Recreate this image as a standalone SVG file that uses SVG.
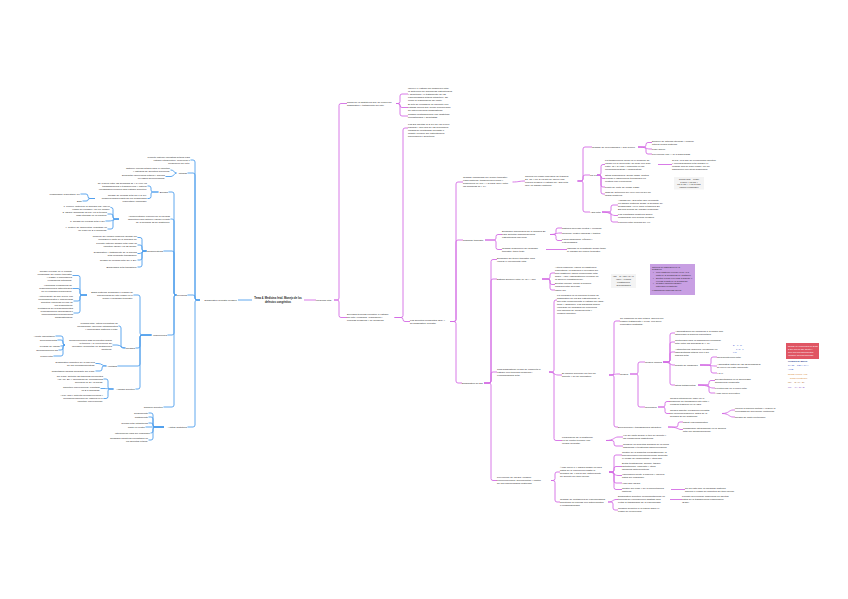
<svg xmlns="http://www.w3.org/2000/svg" width="848" height="599" viewBox="0 0 848 599">
<style>
.t{font-family:"Liberation Sans",Arial,sans-serif;font-size:2.5px;fill:#1c1c1c}
.e{text-anchor:end}
.m{text-anchor:middle}
.s{font-size:2.2px}
.c{font-family:"Liberation Sans",Arial,sans-serif;font-size:2.7px;font-weight:bold;fill:#1a1a1a;text-anchor:middle}
.b{fill:none;stroke:#4f9eec;stroke-width:0.9}
.p{fill:none;stroke:#d46ce4;stroke-width:0.9}
</style>
<rect width="848" height="599" fill="#ffffff"/>
<g id="connectors">
<g class="b">
<path d="M252 300 H238"/>
<path d="M200 300 H197 Q195 300 195 298 V162 Q195 160 193 160 H190.5"/>
<path d="M200 300 H197 Q195 300 195 298 V175 Q195 173 193 173 H187.5"/>
<path d="M200 300 H197 Q195 300 195 298 V297 Q195 295 193 295 H187.5"/>
<path d="M200 300 H197 Q195 300 195 302 V425 Q195 427 193 427 H187.5"/>
<path d="M176.5 173 C174 173 174 170 171 170 H170.5"/>
<path d="M176.5 173 C174 173 174 176.5 171 176.5 H165.5"/>
<path d="M176.5 295 H176 Q174 295 174 293 V194 Q174 192 172 192 H168.5"/>
<path d="M176.5 295 H176 Q174 295 174 293 V221 Q174 219 172 219 H170.5"/>
<path d="M176.5 295 H176 Q174 295 174 293 V253 Q174 251 172 251 H163.5"/>
<path d="M176.5 295 H176 Q174 295 174 297 V333 Q174 335 172 335 H167.5"/>
<path d="M176.5 295 H176 Q174 295 174 297 V405 Q174 407 172 407 H163.5"/>
<path d="M158.5 192 H153 Q151 192 151 190 V188 Q151 186 149 186 H147.5"/>
<path d="M158.5 192 H153 Q151 192 151 194 V196.5 Q151 198.5 149 198.5 H147.5"/>
<path d="M95 198.5 H90 Q88 198.5 88 196.5 Q88 194 86 194 H80.5"/>
<path d="M95 198.5 H90 Q88 198.5 88 200 Q88 201 86 201 H82.5"/>
<path d="M119 219 H115 Q113 219 113 217 V209.5 Q113 207.5 111 207.5 H110.5"/>
<path d="M119 219 H115 Q113 219 113 217 V216 Q113 214 111 214 H107.5"/>
<path d="M119 219 C113 219 113 221 109 221 H105.5"/>
<path d="M119 219 H115 Q113 219 113 221 V227 Q113 229 111 229 H107.5"/>
<path d="M146.5 251 H144 Q142 251 142 249 V239.5 Q142 237.5 140 237.5 H137.5"/>
<path d="M146.5 251 H144 Q142 251 142 249 V247 Q142 245 140 245 H137.5"/>
<path d="M146.5 251 C142 251 142 253.5 139 253.5 H137.5"/>
<path d="M146.5 251 H144 Q142 251 142 253 V258 Q142 260 140 260 H137.5"/>
<path d="M146.5 251 H144 Q142 251 142 253 V265 Q142 267 140 267 H137.5"/>
<path d="M151.5 335 H142 Q140 335 140 333 V297 Q140 295 138 295 H133.5"/>
<path d="M151.5 335 H142 Q140 335 140 337 V346 Q140 348 138 348 H135.5"/>
<path d="M151.5 335 H142 Q140 335 140 337 V364 Q140 366 138 366 H117.5"/>
<path d="M151.5 335 H142 Q140 335 140 337 V387 Q140 389 138 389 H135.5"/>
<path d="M87 295 H82 Q80 295 80 293 V277.5 Q80 275.5 78 275.5 H72.5"/>
<path d="M87 295 H82 Q80 295 80 293 V290.5 Q80 288.5 78 288.5 H72.5"/>
<path d="M87 295 H82 Q80 295 80 297 V299 Q80 301 78 301 H73.5"/>
<path d="M87 295 H82 Q80 295 80 297 V311 Q80 313 78 313 H73.5"/>
<path d="M125.5 348 H123 Q121 348 121 346 V328 Q121 326 119 326 H118.5"/>
<path d="M125.5 348 C121 348 121 345 117 345 H112.5"/>
<path d="M65 345 Q63 345 63 343 V338 Q63 336 61 336 H55.5"/>
<path d="M65 345 Q63 345 63 343 V342 Q63 340 61 340 H57.5"/>
<path d="M65 345 C63 345 63 346 61 346 H60.5"/>
<path d="M65 345 Q63 345 63 347 V348 Q63 350 61 350 H58.5"/>
<path d="M65 345 Q63 345 63 347 V354 Q63 356 61 356 H53.5"/>
<path d="M106.5 366 C102 366 102 363.5 98 363.5 H95.5"/>
<path d="M106.5 366 H104 Q102 366 102 368 V369 Q102 371 100 371 H95.5"/>
<path d="M113.5 389 H110 Q108 389 108 387 V381 Q108 379 106 379 H103.5"/>
<path d="M113.5 389 C108 389 108 388.5 104 388.5 H100.5"/>
<path d="M113.5 389 H110 Q108 389 108 391 V396.5 Q108 398.5 106 398.5 H103.5"/>
<path d="M164 427 H155 Q153 427 153 425 V415 Q153 413 151 413 H148.5"/>
<path d="M164 427 H155 Q153 427 153 425 V419 Q153 417 151 417 H148.5"/>
<path d="M164 427 H155 Q153 427 153 425 Q153 423 151 423 H148.5"/>
<path d="M164 427 H145.5"/>
<path d="M164 427 H155 Q153 427 153 429 V431 Q153 433 151 433 H150.5"/>
<path d="M164 427 H155 Q153 427 153 429 V438 Q153 440 151 440 H148.5"/>
</g>
<g class="p">
<path d="M304 300 H316"/>
<path d="M334 300 H337 Q339 300 339 298 V105.5 Q339 103.5 341 103.5 H347"/>
<path d="M334 300 H337 Q339 300 339 302 V315.5 Q339 317.5 341 317.5 H347"/>
<path d="M396 103.5 H398 Q400 103.5 400 101.5 V96 Q400 94 402 94 H408"/>
<path d="M396 103.5 H398 Q400 103.5 400 105.5 Q400 107.5 402 107.5 H408"/>
<path d="M396 103.5 H398 Q400 103.5 400 105.5 V114 Q400 116 402 116 H408"/>
<path d="M394.5 317.5 H401 Q403 317.5 403 315.5 V130 Q403 128 405 128 H408"/>
<path d="M394.5 317.5 H401 Q403 317.5 403 319.5 Q403 321.5 405 321.5 H410"/>
<path d="M450 321.5 H454 Q456 321.5 456 319.5 V184 Q456 182 458 182 H463"/>
<path d="M450 321.5 H454 Q456 321.5 456 319.5 V242 Q456 240 458 240 H463"/>
<path d="M450 321.5 H454 Q456 321.5 456 323.5 V381 Q456 383 458 383 H462"/>
<path d="M512.5 182 C519 182 519 181 525 181"/>
<path d="M577.5 181 H581 Q583 181 583 179 V149 Q583 147 585 147 H592"/>
<path d="M577.5 181 H581 Q583 181 583 179 V177 Q583 175 585 175 H590"/>
<path d="M577.5 181 H581 Q583 181 583 183 V210 Q583 212 585 212 H590"/>
<path d="M597 175 H599 Q601 175 601 173 V166.5 Q601 164.5 603 164.5 H605"/>
<path d="M597 175 H599 Q601 175 601 176.5 Q601 178.5 603 178.5 H605"/>
<path d="M597 175 H599 Q601 175 601 177 V185 Q601 187 603 187 H605"/>
<path d="M597 175 H599 Q601 175 601 177 V192 Q601 194 603 194 H605"/>
<path d="M658 164.5 H672"/>
<path d="M638 147 H644 Q646 147 646 145 V144.5 Q646 142.5 648 142.5 H652"/>
<path d="M638 147 C646 147 646 149 650 149 H652"/>
<path d="M638 147 H644 Q646 147 646 149 V152 Q646 154 648 154 H652"/>
<path d="M602 212 H609 Q611 212 611 210 V207 Q611 205 613 205 H618"/>
<path d="M602 212 C611 212 611 215.5 615 215.5 H618"/>
<path d="M602 212 H609 Q611 212 611 214 V220 Q611 222 613 222 H618"/>
<path d="M485 240 H494 Q496 240 496 238 V236.5 Q496 234.5 498 234.5 H502"/>
<path d="M485 240 H494 Q496 240 496 242 V247.5 Q496 249.5 498 249.5 H502"/>
<path d="M550 234.5 H554 Q556 234.5 556 232.5 V230 Q556 228 558 228 H562"/>
<path d="M550 234.5 C556 234.5 556 233 560 233 H562"/>
<path d="M550 234.5 H554 Q556 234.5 556 236.5 V238.5 Q556 240.5 558 240.5 H562"/>
<path d="M546 249.5 H567"/>
<path d="M484 383 H489 Q491 383 491 381 V261.5 Q491 259.5 493 259.5 H497"/>
<path d="M484 383 H489 Q491 383 491 381 V281 Q491 279 493 279 H497"/>
<path d="M484 383 H489 Q491 383 491 381 V374 Q491 372 493 372 H497"/>
<path d="M484 383 H489 Q491 383 491 385 V478.5 Q491 480.5 493 480.5 H497"/>
<path d="M542 279 H548 Q550 279 550 277 V275 Q550 273 552 273 H555"/>
<path d="M542 279 H548 Q550 279 550 281 V282.5 Q550 284.5 552 284.5 H555"/>
<path d="M542 279 H548 Q550 279 550 281 V288 Q550 290 552 290 H555"/>
<path d="M549 372 H552 Q554 372 554 370 V302 Q554 300 556 300 H557"/>
<path d="M549 372 C554 372 554 375 558 375 H562"/>
<path d="M549 372 H552 Q554 372 554 374 V438.5 Q554 440.5 556 440.5 H562"/>
<path d="M609 375 H612 Q614 375 614 373 V323 Q614 321 616 321 H620"/>
<path d="M609 375 C614 375 614 374 618 374 H620"/>
<path d="M609 375 H612 Q614 375 614 377 V425 Q614 427 616 427 H618"/>
<path d="M630 374 H636 Q638 374 638 372 V364 Q638 362 640 362 H645"/>
<path d="M630 374 H636 Q638 374 638 376 V405 Q638 407 640 407 H645"/>
<path d="M663 362 H668 Q670 362 670 360 V335 Q670 333 672 333 H675"/>
<path d="M663 362 H668 Q670 362 670 360 V344 Q670 342 672 342 H675"/>
<path d="M663 362 H668 Q670 362 670 360 V354 Q670 352 672 352 H675"/>
<path d="M663 362 C670 362 670 365 673 365 H675"/>
<path d="M663 362 H668 Q670 362 670 364 V383 Q670 385 672 385 H675"/>
<path d="M700 365 H709 Q711 365 711 363 V359 Q711 357 713 357 H717"/>
<path d="M700 365 C711 365 711 366 715 366 H717"/>
<path d="M700 365 H709 Q711 365 711 367 V371 Q711 373 713 373 H717"/>
<path d="M698 385 H707 Q709 385 709 383 V382.5 Q709 380.5 711 380.5 H715"/>
<path d="M698 385 C709 385 709 388 713 388 H715"/>
<path d="M698 385 H707 Q709 385 709 387 V391 Q709 393 711 393 H715"/>
<path d="M658 407 H663 Q665 407 665 405 V403.5 Q665 401.5 667 401.5 H670"/>
<path d="M658 407 H663 Q665 407 665 409 V411.5 Q665 413.5 667 413.5 H670"/>
<path d="M722 413.5 C729 413.5 729 410 733 410 H735"/>
<path d="M722 413.5 C729 413.5 729 417 733 417 H735"/>
<path d="M668 427 H676 Q678 427 678 425 V424 Q678 422 680 422 H683"/>
<path d="M668 427 C678 427 678 429.5 681 429.5 H683"/>
<path d="M606 440.5 C614 440.5 614 437 618 437 H623"/>
<path d="M606 440.5 H612 Q614 440.5 614 442.5 V444 Q614 446 616 446 H623"/>
<path d="M551 480.5 H553 Q555 480.5 555 478.5 V474 Q555 472 557 472 H560"/>
<path d="M551 480.5 H553 Q555 480.5 555 482.5 V500 Q555 502 557 502 H560"/>
<path d="M609 472 H612 Q614 472 614 470 V457 Q614 455 616 455 H622"/>
<path d="M609 472 H612 Q614 472 614 470 V468.5 Q614 466.5 616 466.5 H622"/>
<path d="M609 472 C614 472 614 475.5 618 475.5 H622"/>
<path d="M609 472 H612 Q614 472 614 474 V481 Q614 483 616 483 H622"/>
<path d="M609 472 H612 Q614 472 614 474 V487.5 Q614 489.5 616 489.5 H622"/>
<path d="M671 489.5 H685"/>
<path d="M608 502 C613 502 613 499.5 616 499.5 H618"/>
<path d="M608 502 H611 Q613 502 613 504 V508 Q613 510 615 510 H618"/>
<path d="M670 499.5 H682"/>
</g>
</g>

<g id="center"><text class="c" x="278" y="299.4"><tspan x="278">Tema 4. Medicina fetal. Manejo de los</tspan><tspan x="278" dy="3.3">defectos congénitos</tspan></text></g>

<!-- LEFT -->
<g id="lm"><text class="t e" x="237" y="300.9">Diagnóstico prenatal invasivo</text></g>
<g id="a1"><text class="t e" x="190" y="158.4"><tspan x="190">Permite obtener muestras fetales para</tspan><tspan x="190" dy="3">estudio citogenético, molecular o</tspan><tspan x="190" dy="3">bioquímico del feto.</tspan></text></g>
<g id="b"><text class="t e" x="187" y="173.9">Utilidad</text></g>
<g id="b1"><text class="t e" x="170" y="169.4"><tspan x="170">Obtener células fetales para el cariotipo</tspan><tspan x="170" dy="3">y estudios de genética molecular.</tspan></text></g>
<g id="b2"><text class="t e" x="165" y="175.9"><tspan x="165">Descartar infecciones fetales y anemia</tspan><tspan x="165" dy="3">en casos seleccionados.</tspan></text></g>
<g id="f"><text class="t e" x="187" y="295.9">Técnicas</text></g>
<g id="c"><text class="t e" x="168" y="192.9">Biopsia</text></g>
<g id="c1"><text class="t e" x="147" y="183.9"><tspan x="147">Se realiza entre las semanas 11 y 14 por vía</tspan><tspan x="147" dy="3">transabdominal o transcervical y obtiene</tspan><tspan x="147" dy="3">vellosidades coriales para estudio genético.</tspan></text></g>
<g id="c2"><text class="t e" x="147" y="196.4"><tspan x="147">Riesgo de pérdida fetal del 0,5-1%.</tspan><tspan x="147" dy="3">Posibles falsos positivos por mosaicismo</tspan><tspan x="147" dy="3">placentario confinado.</tspan></text></g>
<g id="c2a"><text class="t e" x="80" y="194.9">Mosaicismo placentario 1%</text></g>
<g id="c2b"><text class="t e" x="82" y="201.9">Bajo</text></g>
<g id="d"><text class="t e" x="170" y="216.9"><tspan x="170">Amniocentesis: punción de la cavidad</tspan><tspan x="170" dy="3">amniótica para obtener líquido a partir</tspan><tspan x="170" dy="3">de la semana 15 de gestación.</tspan></text></g>
<g id="d1"><text class="t e" x="110" y="206.9"><tspan x="110">1. Precoz (antes de la semana 15): mayor</tspan><tspan x="110" dy="3">riesgo de pérdida y de pie zambo.</tspan></text></g>
<g id="d2"><text class="t e" x="107" y="213.4"><tspan x="107">2. Tardía (semanas 15-18): es la técnica</tspan><tspan x="107" dy="3">más utilizada en la práctica.</tspan></text></g>
<g id="d3"><text class="t e" x="105" y="221.9">3. Riesgo de pérdida fetal 0,5%</text></g>
<g id="d4"><text class="t e" x="107" y="228.4"><tspan x="107">4. Cultivo de amniocitos: resultado en</tspan><tspan x="107" dy="3">un plazo de 2-3 semanas.</tspan></text></g>
<g id="e"><text class="t e" x="163" y="251.9">Cordocentesis</text></g>
<g id="e1"><text class="t e" x="137" y="236.9"><tspan x="137">Punción del cordón umbilical guiada por</tspan><tspan x="137" dy="3">ecografía a partir de la semana 18.</tspan></text></g>
<g id="e2"><text class="t e" x="137" y="244.4"><tspan x="137">Permite obtener sangre fetal para un</tspan><tspan x="137" dy="3">cariotipo rápido (48-72 horas).</tspan></text></g>
<g id="e3"><text class="t e" x="137" y="252.9"><tspan x="137">Diagnóstico y tratamiento de la anemia</tspan><tspan x="137" dy="3">fetal mediante transfusión.</tspan></text></g>
<g id="e4"><text class="t e" x="137" y="260.9">Riesgo de pérdida fetal del 1-2%.</text></g>
<g id="e5"><text class="t e" x="137" y="267.9">Bradicardia fetal transitoria.</text></g>
<g id="h"><text class="t e" x="167" y="335.9">Indicaciones</text></g>
<g id="g"><text class="t e" x="133" y="292.9"><tspan x="133">Edad materna avanzada o cribado de</tspan><tspan x="133" dy="3">aneuploidías de alto riesgo en el</tspan><tspan x="133" dy="3">primer o segundo trimestre.</tspan></text></g>
<g id="g1"><text class="t e" x="72" y="271.9"><tspan x="72">Riesgo elevado en el cribado</tspan><tspan x="72" dy="3">combinado del primer trimestre</tspan><tspan x="72" dy="3">(&gt;1/250) o marcadores</tspan><tspan x="72" dy="3">ecográficos alterados.</tspan></text></g>
<g id="g2"><text class="t e" x="72" y="286.4"><tspan x="72">Hallazgos ecográficos de</tspan><tspan x="72" dy="3">malformaciones estructurales</tspan><tspan x="72" dy="3">en la ecografía morfológica.</tspan></text></g>
<g id="g3"><text class="t e" x="73" y="297.4"><tspan x="73">Antecedente de hijo previo con</tspan><tspan x="73" dy="3">cromosomopatía o enfermedad</tspan><tspan x="73" dy="3">genética conocida en uno de</tspan><tspan x="73" dy="3">los progenitores.</tspan></text></g>
<g id="g4"><text class="t e" x="73" y="309.4"><tspan x="73">Portadores de reordenamientos</tspan><tspan x="73" dy="3">cromosómicos equilibrados o</tspan><tspan x="73" dy="3">enfermedades monogénicas</tspan><tspan x="73" dy="3">diagnosticables.</tspan></text></g>
<g id="i"><text class="t e" x="135" y="348.9">Riesgos</text></g>
<g id="i1"><text class="t e" x="118" y="323.9"><tspan x="118">Pérdida fetal, rotura prematura de</tspan><tspan x="118" dy="3">membranas, infección intraamniótica</tspan><tspan x="118" dy="3">y hemorragia materna o fetal.</tspan></text></g>
<g id="i2"><text class="t e" x="112" y="341.4"><tspan x="112">Complicaciones más frecuentes según</tspan><tspan x="112" dy="3">la técnica y la experiencia del</tspan><tspan x="112" dy="3">operador; aumentan en gestaciones</tspan><tspan x="112" dy="3">múltiples.</tspan></text></g>
<g id="i2a"><text class="t e" x="55" y="336.9">Aborto espontáneo</text></g>
<g id="i2b"><text class="t e" x="57" y="340.9">Corioamnionitis</text></g>
<g id="i2c"><text class="t e" x="60" y="346.9">Pérdida de líquido</text></g>
<g id="i2d"><text class="t e" x="58" y="350.9">Isoinmunización Rh</text></g>
<g id="i2e"><text class="t e" x="53" y="356.9">Lesión fetal</text></g>
<g id="j"><text class="t e" x="117" y="366.9">Ventajas</text></g>
<g id="j1"><text class="t e" x="95" y="362.9"><tspan x="95">Diagnóstico definitivo de la mayoría</tspan><tspan x="95" dy="3">de las cromosomopatías.</tspan></text></g>
<g id="j2"><text class="t e" x="95" y="371.9">Resultados rápidos mediante QF-PCR.</text></g>
<g id="k"><text class="t e" x="135" y="389.9">Análisis genético</text></g>
<g id="k1"><text class="t e" x="103" y="376.9"><tspan x="103">QF-PCR: detecta las trisomías frecuentes</tspan><tspan x="103" dy="3">(13, 18, 21) y anomalías de cromosomas</tspan><tspan x="103" dy="3">sexuales en 24-48 horas.</tspan></text></g>
<g id="k2"><text class="t e" x="100" y="387.9"><tspan x="100">Cariotipo convencional: resultado</tspan><tspan x="100" dy="3">en 2-3 semanas.</tspan></text></g>
<g id="k3"><text class="t e" x="103" y="396.4"><tspan x="103">Array-CGH: detecta microdeleciones y</tspan><tspan x="103" dy="3">microduplicaciones no visibles en el</tspan><tspan x="103" dy="3">cariotipo convencional.</tspan></text></g>
<g id="l"><text class="t e" x="163" y="407.9">Consejo genético</text></g>
<g id="mm"><text class="t e" x="187" y="427.9">Actitud obstétrica</text></g>
<g id="m1"><text class="t e" x="148" y="413.9">Seguimiento</text></g>
<g id="m2"><text class="t e" x="148" y="417.9">Tratamiento</text></g>
<g id="m3"><text class="t e" x="148" y="423.9">Cirugía fetal intrauterina</text></g>
<g id="m4"><text class="t e" x="145" y="427.9">Parto en centro</text></g>
<g id="m5"><text class="t e" x="150" y="433.9">Interrupción legal del embarazo</text></g>
<g id="m6"><text class="t e" x="148" y="439.4"><tspan x="148">Cuidados paliativos perinatales en</tspan><tspan x="148" dy="3">los defectos letales.</tspan></text></g>

<!-- RIGHT -->
<g id="rm"><text class="t" x="316" y="300.9">Medicina fetal</text></g>
<g id="o"><text class="t" x="347" y="102.9"><tspan x="347">Rama de la obstetricia que se ocupa del</tspan><tspan x="347" dy="3">diagnóstico y tratamiento del feto.</tspan></text></g>
<g id="o1"><text class="t" x="408" y="88.9"><tspan x="408">Incluye el estudio del desarrollo fetal,</tspan><tspan x="408" dy="3">la detección de anomalías estructurales</tspan><tspan x="408" dy="3">y genéticas y el tratamiento de las</tspan><tspan x="408" dy="3">enfermedades fetales intraútero, así</tspan><tspan x="408" dy="3">como la planificación del parto.</tspan></text></g>
<g id="o2"><text class="t" x="408" y="105.4"><tspan x="408">El feto se considera un paciente con</tspan><tspan x="408" dy="3">entidad propia que puede beneficiarse</tspan><tspan x="408" dy="3">de intervenciones diagnósticas.</tspan></text></g>
<g id="o3"><text class="t" x="408" y="115.4"><tspan x="408">Trabajo multidisciplinar con obstetras,</tspan><tspan x="408" dy="3">neonatólogos y genetistas.</tspan></text></g>
<g id="pp"><text class="t" x="408" y="124.9"><tspan x="408">Los DC afectan al 2-3% de los recién</tspan><tspan x="408" dy="3">nacidos y son una de las principales</tspan><tspan x="408" dy="3">causas de mortalidad perinatal e</tspan><tspan x="408" dy="3">infantil; pueden ser estructurales,</tspan><tspan x="408" dy="3">funcionales o genéticos.</tspan></text></g>
<g id="n"><text class="t" x="347" y="315.4"><tspan x="347">Diversas técnicas permiten el estudio</tspan><tspan x="347" dy="3">del feto: ecografía, resonancia y</tspan><tspan x="347" dy="3">pruebas invasivas y no invasivas.</tspan></text></g>
<g id="dd"><text class="t" x="410" y="320.9"><tspan x="410">Los defectos congénitos (DC) y</tspan><tspan x="410" dy="3">su diagnóstico prenatal</tspan></text></g>
<g id="q"><text class="t" x="463" y="178.4"><tspan x="463">Cribado combinado del primer trimestre:</tspan><tspan x="463" dy="3">edad materna, translucencia nucal y</tspan><tspan x="463" dy="3">bioquímica (PAPP-A y β-hCG libre) entre</tspan><tspan x="463" dy="3">las semanas 11 y 14.</tspan></text></g>
<g id="r"><text class="t" x="525" y="177.4"><tspan x="525">Calcula un riesgo individual de trisomía</tspan><tspan x="525" dy="3">21, 18 y 13; si es alto se ofrece una</tspan><tspan x="525" dy="3">prueba invasiva o estudio de ADN fetal</tspan><tspan x="525" dy="3">libre en sangre materna.</tspan></text></g>
<g id="r0"><text class="t" x="592" y="147.9">Cribado de preeclampsia y CIR precoz</text></g>
<g id="s1"><text class="t" x="652" y="141.9"><tspan x="652">Doppler de arterias uterinas y presión</tspan><tspan x="652" dy="3">arterial media materna.</tspan></text></g>
<g id="s2"><text class="t" x="652" y="149.9">PlGF sérico</text></g>
<g id="s3"><text class="t" x="652" y="154.9">Prevención con AAS a dosis bajas</text></g>
<g id="s"><text class="t" x="590" y="175.9">TN 1T</text></g>
<g id="s1b"><text class="t" x="605" y="160.9"><tspan x="605">La translucencia nucal es el acúmulo de</tspan><tspan x="605" dy="3">líquido en la nuca fetal; se mide con CRL</tspan><tspan x="605" dy="3">entre 45 y 84 mm y aumenta en las</tspan><tspan x="605" dy="3">cromosomopatías y cardiopatías.</tspan></text></g>
<g id="s1a"><text class="t" x="672" y="161.4"><tspan x="672">Si TN &gt;3,5 mm se recomienda cariotipo</tspan><tspan x="672" dy="3">y ecocardiografía fetal aunque el</tspan><tspan x="672" dy="3">cribado sea de bajo riesgo, por su</tspan><tspan x="672" dy="3">asociación con otros síndromes.</tspan></text></g>
<g id="s2b"><text class="t" x="605" y="176.4"><tspan x="605">Otros marcadores: hueso nasal, ductus</tspan><tspan x="605" dy="3">venoso e insuficiencia tricuspídea en</tspan><tspan x="605" dy="3">centros con experiencia.</tspan></text></g>
<g id="s3b"><text class="t" x="605" y="187.9">Punto de corte de riesgo 1/250</text></g>
<g id="s4b"><text class="t" x="605" y="193.4"><tspan x="605">Tasa de detección del 90% con un 5% de</tspan><tspan x="605" dy="3">falsos positivos.</tspan></text></g>
<g id="fb1"><rect x="674" y="177" width="30" height="12.5" fill="#f4f4f4"/><text class="t m s" x="689" y="179.6"><tspan x="689">Riesgo final = riesgo</tspan><tspan x="689" dy="2.9">a priori × LR TN ×</tspan><tspan x="689" dy="2.9">LR PAPP-A × LR β-hCG</tspan><tspan x="689" dy="2.9">(cálculo combinado)</tspan></text></g>
<g id="t"><text class="t" x="590" y="212.9">ADN fetal</text></g>
<g id="t1"><text class="t" x="618" y="201.4"><tspan x="618">Análisis del ADN fetal libre circulante</tspan><tspan x="618" dy="3">en sangre materna desde la semana 10;</tspan><tspan x="618" dy="3">sensibilidad &gt;99% para la trisomía 21.</tspan><tspan x="618" dy="3">Es una prueba de cribado avanzado.</tspan></text></g>
<g id="t2"><text class="t" x="618" y="214.9"><tspan x="618">Los resultados positivos deben</tspan><tspan x="618" dy="3">confirmarse con prueba invasiva.</tspan></text></g>
<g id="t3"><text class="t" x="618" y="222.9">Fracción fetal mínima del 4%</text></g>
<g id="u"><text class="t" x="463" y="240.9">Segundo trimestre</text></g>
<g id="u1"><text class="t" x="502" y="232.4"><tspan x="502">Ecografía morfológica de la semana 20</tspan><tspan x="502" dy="3">para detectar malformaciones</tspan><tspan x="502" dy="3">estructurales mayores.</tspan></text></g>
<g id="u1a"><text class="t" x="562" y="228.9">Sistema nervioso central y columna</text></g>
<g id="u1b"><text class="t" x="562" y="233.9">Corazón: cuatro cámaras y tractos</text></g>
<g id="u1c"><text class="t" x="562" y="239.9"><tspan x="562">Pared abdominal, riñones y</tspan><tspan x="562" dy="3">extremidades.</tspan></text></g>
<g id="u2"><text class="t" x="502" y="248.9"><tspan x="502">Cribado bioquímico del segundo</tspan><tspan x="502" dy="3">trimestre (triple test).</tspan></text></g>
<g id="u2a"><text class="t" x="567" y="248.9"><tspan x="567">Indicado si la gestante acude tarde</tspan><tspan x="567" dy="3">al cribado del primer trimestre.</tspan></text></g>
<g id="z"><text class="t" x="462" y="383.9">Diagnóstico de DC</text></g>
<g id="v1"><text class="t" x="497" y="258.9"><tspan x="497">Ecografía del tercer trimestre para</tspan><tspan x="497" dy="3">valorar el crecimiento fetal.</tspan></text></g>
<g id="v2"><text class="t" x="497" y="279.9">Estudio Doppler fetal: IP, IR y ACM</text></g>
<g id="v2a"><text class="t" x="555" y="267.9"><tspan x="555">Arteria umbilical: valora la resistencia</tspan><tspan x="555" dy="3">placentaria; la ausencia o inversión del</tspan><tspan x="555" dy="3">flujo diastólico indica compromiso fetal</tspan><tspan x="555" dy="3">grave. ACM: vasodilatación cerebral en</tspan><tspan x="555" dy="3">la hipoxia (redistribución).</tspan></text></g>
<g id="v2b"><text class="t" x="555" y="283.9"><tspan x="555">Ductus venoso: refleja la función</tspan><tspan x="555" dy="3">cardíaca fetal derecha.</tspan></text></g>
<g id="v2c"><text class="t" x="555" y="290.9">Índice CP</text></g>
<g id="fb2"><rect x="611" y="274" width="25" height="14" fill="#f4f4f4"/><text class="t m s" x="623.5" y="277.4"><tspan x="623.5">ICP = IP ACM / IP AU</tspan><tspan x="623.5" dy="2.9">Valor &lt; 1 indica</tspan><tspan x="623.5" dy="2.9">redistribución</tspan><tspan x="623.5" dy="2.9">hemodinámica</tspan></text></g>
<g id="pb"><rect x="650" y="264" width="45" height="31" fill="#c89fe3"/><text class="t s" x="652" y="267.6"><tspan x="652">Criterios de finalización de la</tspan><tspan x="652" dy="2.8">gestación:</tspan><tspan x="653" dy="2.8">•</tspan><tspan x="656">Flujo diastólico reverso en la AU a</tspan><tspan x="656" dy="2.8">partir de la semana 30 de gestación.</tspan><tspan x="653" dy="2.8">•</tspan><tspan x="656">Ductus venoso con onda a ausente o</tspan><tspan x="656" dy="2.8">reversa a partir de la semana 26.</tspan><tspan x="653" dy="2.8">•</tspan><tspan x="656">Registro cardiotocográfico</tspan><tspan x="656" dy="2.8">patológico persistente.</tspan><tspan x="652" dy="3.5">▪ Maduración pulmonar previa</tspan></text></g>
<g id="w"><text class="t" x="557" y="295.9"><tspan x="557">La ecografía es la principal técnica de</tspan><tspan x="557" dy="3">diagnóstico de los DC estructurales; la</tspan><tspan x="557" dy="3">RM fetal complementa el estudio del SNC,</tspan><tspan x="557" dy="3">tórax y abdomen. Los hallazgos deben</tspan><tspan x="557" dy="3">valorarse en unidades de referencia</tspan><tspan x="557" dy="3">con equipos de medicina fetal y</tspan><tspan x="557" dy="3">consejo genético.</tspan></text></g>
<g id="x"><text class="t" x="620" y="318.9"><tspan x="620">Se clasifican en DC letales, graves con</tspan><tspan x="620" dy="3">posible tratamiento y leves, con buen</tspan><tspan x="620" dy="3">pronóstico postnatal.</tspan></text></g>
<g id="aa"><text class="t" x="497" y="369.9"><tspan x="497">Tras diagnosticar un DC se completa el</tspan><tspan x="497" dy="3">estudio con técnicas invasivas y</tspan><tspan x="497" dy="3">ecocardiografía fetal.</tspan></text></g>
<g id="ab"><text class="t" x="562" y="374.4"><tspan x="562">El manejo depende del tipo de</tspan><tspan x="562" dy="3">defecto y de su pronóstico.</tspan></text></g>
<g id="ac"><text class="t" x="620" y="374.9">Terapia</text></g>
<g id="ad"><text class="t" x="645" y="362.9">Terapia médica</text></g>
<g id="ad0"><text class="t" x="675" y="332.4"><tspan x="675">Administración de fármacos a la madre que</tspan><tspan x="675" dy="3">atraviesan la barrera placentaria.</tspan></text></g>
<g id="ad1"><text class="t" x="675" y="341.4"><tspan x="675">Corticoides para la maduración pulmonar</tspan><tspan x="675" dy="3">fetal entre las semanas 24 y 34.</tspan></text></g>
<g id="ad2"><text class="t" x="675" y="349.9"><tspan x="675">Antiarrítmicos (digoxina, flecainida) en</tspan><tspan x="675" dy="3">taquiarritmias fetales con o sin</tspan><tspan x="675" dy="3">hidrops fetal.</tspan></text></g>
<g id="ad3"><text class="t" x="675" y="365.9">Sulfato de magnesio</text></g>
<g id="ad3a"><text class="t" x="717" y="357.9">Neuroprotección fetal</text></g>
<g id="ad3b"><text class="t" x="717" y="365.4"><tspan x="717">Administrar antes de las 32 semanas si</tspan><tspan x="717" dy="3">se prevé un parto inminente.</tspan></text></g>
<g id="ad3c"><text class="t" x="717" y="373.9">4 g iv</text></g>
<g id="ad4"><text class="t" x="675" y="385.9">Otros tratamientos</text></g>
<g id="ad4a"><text class="t" x="715" y="379.9"><tspan x="715">Dexametasona en la hiperplasia</tspan><tspan x="715" dy="3">suprarrenal congénita.</tspan></text></g>
<g id="ad4b"><text class="t" x="715" y="388.9">Levotiroxina en el bocio fetal</text></g>
<g id="ad4c"><text class="t" x="715" y="393.9">Ácido fólico preventivo</text></g>
<g id="ae"><text class="t" x="645" y="407.9">Quirúrgica</text></g>
<g id="ae1"><text class="t" x="670" y="399.4"><tspan x="670">Cirugía fetoscópica: láser en el</tspan><tspan x="670" dy="3">síndrome de transfusión feto-fetal y</tspan><tspan x="670" dy="3">oclusión traqueal en la HDC.</tspan></text></g>
<g id="ae2"><text class="t" x="670" y="411.4"><tspan x="670">Cirugía abierta: reparación prenatal</tspan><tspan x="670" dy="3">del mielomeningocele antes de la</tspan><tspan x="670" dy="3">semana 26 de gestación.</tspan></text></g>
<g id="ae2a"><text class="t" x="735" y="409.4"><tspan x="735">Mejora la función motora y reduce la</tspan><tspan x="735" dy="3">necesidad de derivación ventricular.</tspan></text></g>
<g id="ae2b"><text class="t" x="735" y="417.9">Riesgo de parto pretérmino</text></g>
<g id="af"><text class="t" x="618" y="427.9">Derivaciones y transfusiones intraútero</text></g>
<g id="af1"><text class="t" x="683" y="422.9">Shunt vesicoamniótico</text></g>
<g id="af2"><text class="t" x="683" y="428.9"><tspan x="683">Transfusión intravascular en la anemia</tspan><tspan x="683" dy="3">fetal por isoinmunización.</tspan></text></g>
<g id="ag"><text class="t" x="562" y="438.4"><tspan x="562">Finalización de la gestación</tspan><tspan x="562" dy="3">en un centro terciario con</tspan><tspan x="562" dy="3">cirugía neonatal.</tspan></text></g>
<g id="ag1"><text class="t" x="623" y="436.4"><tspan x="623">Vía del parto según el tipo de defecto y</tspan><tspan x="623" dy="3">las condiciones obstétricas.</tspan></text></g>
<g id="ag2"><text class="t" x="623" y="445.4"><tspan x="623">Cesárea en defectos grandes de la pared</tspan><tspan x="623" dy="3">abdominal o teratomas sacrococcígeos.</tspan></text></g>
<g id="ba"><text class="t" x="497" y="478.4"><tspan x="497">Prevención de los DC: consejo</tspan><tspan x="497" dy="3">preconcepcional, suplementos y control</tspan><tspan x="497" dy="3">de las enfermedades maternas.</tspan></text></g>
<g id="bb"><text class="t" x="560" y="468.4"><tspan x="560">Ácido fólico 0,4 mg/día desde un mes</tspan><tspan x="560" dy="3">antes de la concepción hasta la</tspan><tspan x="560" dy="3">semana 12; 4 mg si hay antecedente</tspan><tspan x="560" dy="3">de defecto del tubo neural.</tspan></text></g>
<g id="bb1"><text class="t" x="622" y="452.9"><tspan x="622">Control de la diabetes pregestacional: la</tspan><tspan x="622" dy="3">hiperglucemia periconcepcional aumenta</tspan><tspan x="622" dy="3">el riesgo de cardiopatías y otros DC.</tspan></text></g>
<g id="bb2"><text class="t" x="622" y="464.4"><tspan x="622">Evitar teratógenos: alcohol, tabaco,</tspan><tspan x="622" dy="3">isotretinoína, valproato y otros</tspan><tspan x="622" dy="3">fármacos antiepilépticos.</tspan></text></g>
<g id="bb3"><text class="t" x="622" y="474.9"><tspan x="622">Vacunación frente a rubéola y varicela</tspan><tspan x="622" dy="3">antes del embarazo.</tspan></text></g>
<g id="bb4"><text class="t" x="622" y="483.9">Yodo 200 μg/día</text></g>
<g id="bb5"><text class="t" x="622" y="488.9"><tspan x="622">Control del peso y de la fenilcetonuria</tspan><tspan x="622" dy="3">materna.</tspan></text></g>
<g id="bb5a"><text class="t" x="685" y="489.4"><tspan x="685">Se ha visto que la obesidad materna</tspan><tspan x="685" dy="3">duplica el riesgo de defectos del tubo neural.</tspan></text></g>
<g id="bc"><text class="t" x="560" y="499.9"><tspan x="560">Cribado de portadores de enfermedades</tspan><tspan x="560" dy="3">genéticas en parejas con antecedentes</tspan><tspan x="560" dy="3">o consanguinidad.</tspan></text></g>
<g id="bc1"><text class="t" x="618" y="497.4"><tspan x="618">Diagnóstico genético preimplantacional en</tspan><tspan x="618" dy="3">técnicas de reproducción asistida para</tspan><tspan x="618" dy="3">evitar la transmisión de la enfermedad.</tspan></text></g>
<g id="bc1a"><text class="t" x="682" y="497.4"><tspan x="682">Permite seleccionar embriones no afectos</tspan><tspan x="682" dy="3">antes de la transferencia embrionaria.</tspan><tspan x="682" dy="3">(DGP)</tspan></text></g>
<g id="bc2"><text class="t" x="618" y="509.4"><tspan x="618">Consejo genético a la pareja sobre el</tspan><tspan x="618" dy="3">riesgo de recurrencia.</tspan></text></g>

<g id="formula"><text class="t s" x="733" y="346" style="fill:#3a5bd0"><tspan x="733">E    =    n   ·   m</tspan><tspan x="736" dy="3.5">1  /  2   ·  1</tspan><tspan x="733" dy="3.5">u              m</tspan></text></g>
<g id="redbox"><rect x="786" y="343" width="33" height="16" fill="#e05563"/><text class="t s" x="788" y="347" style="fill:#ffffff"><tspan x="788">Riesgo de recurrencia de DTN:</tspan><tspan x="788" dy="3">2-3% con un hijo afecto y</tspan><tspan x="788" dy="3">10% con dos hijos afectos</tspan><tspan x="788" dy="3">(consejo preconcepcional)</tspan></text></g>
<g id="notes">
<text class="t s" x="788" y="361.5" style="fill:#2a3f8f;font-weight:bold">Fórmula de Bayes:</text>
<text class="t s" x="788" y="365.5" style="fill:#3356c8">P(A|B) = P(B|A)·P(A)</text>
<text class="t s" x="788" y="369.5" style="fill:#3356c8">          / P(B)</text>
<text class="t s" x="788" y="374.5" style="fill:#d47a1e">Riesgo a priori × LR</text>
<text class="t s" x="788" y="378.5" style="fill:#d47a1e">= riesgo a posteriori</text>
<text class="t s" x="788" y="383" style="fill:#a8601c">LR+ = S / (1 − E)</text>
<text class="t s" x="788" y="388" style="fill:#7d4cc7">LR− = (1 − S) / E</text>
</g>
</svg>
